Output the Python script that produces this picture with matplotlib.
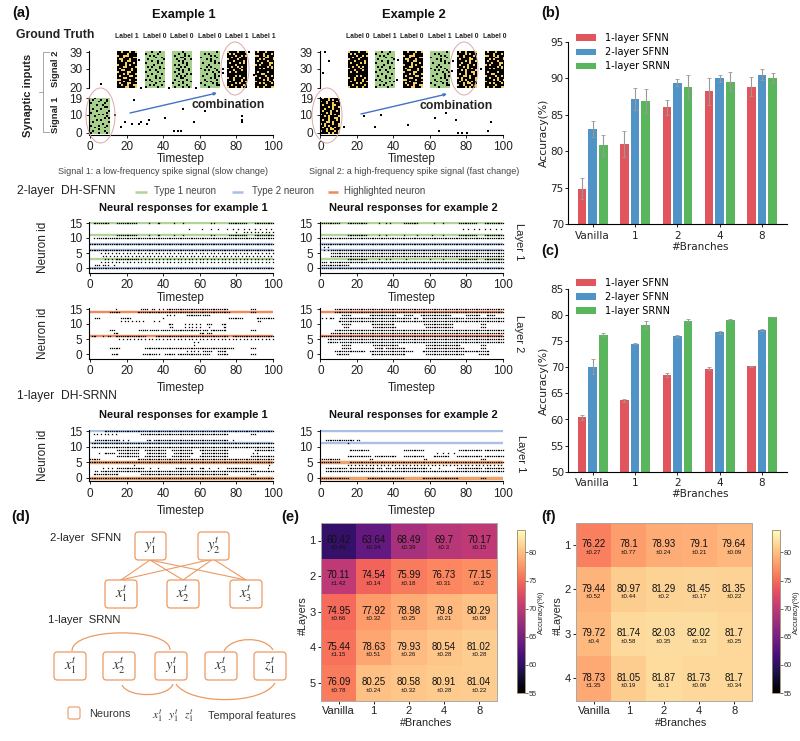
"""Spiking-network figure: input rasters, neural responses, accuracy bars and heatmaps."""
import numpy as np
import matplotlib
matplotlib.use("Agg")
import matplotlib.pyplot as plt
from matplotlib.colors import ListedColormap
from matplotlib.patches import Ellipse, FancyBboxPatch, PathPatch
from matplotlib.path import Path

plt.rcParams["font.family"] = ["Liberation Sans", "DejaVu Sans"]
plt.rcParams["mathtext.fontset"] = "stix"
W, H = 800, 741

BRANCHES = ["Vanilla", "1", "2", "4", "8"]
SERIES = ["1-layer SFNN", "2-layer SFNN", "1-layer SRNN"]
BAR_COLORS = ["#e0565c", "#4f93c7", "#5ab65c"]

B_MEAN_1 = [74.9, 81.0, 86.0, 88.2, 88.8]
B_ERR_1 = [1.4, 1.8, 1.0, 1.8, 1.3]
B_MEAN_2 = [83.0, 87.2, 89.4, 90.0, 90.5]
B_ERR_2 = [1.1, 1.5, 0.5, 0.5, 0.8]
B_MEAN_3 = [80.8, 86.9, 88.8, 89.5, 90.0]
B_ERR_3 = [1.4, 1.6, 1.7, 1.3, 0.7]

C_MEAN_1 = [60.42, 63.64, 68.49, 69.7, 70.17]
C_ERR_1 = [0.46, 0.34, 0.39, 0.3, 0.15]
C_MEAN_2 = [70.11, 74.54, 75.99, 76.73, 77.15]
C_ERR_2 = [1.42, 0.14, 0.18, 0.31, 0.2]
C_MEAN_3 = [76.22, 78.1, 78.93, 79.1, 79.64]
C_ERR_3 = [0.27, 0.77, 0.24, 0.21, 0.09]

E_MEAN = [[60.42, 63.64, 68.49, 69.7, 70.17],
          [70.11, 74.54, 75.99, 76.73, 77.15],
          [74.95, 77.92, 78.98, 79.8, 80.29],
          [75.44, 78.63, 79.93, 80.54, 81.02],
          [76.09, 80.25, 80.58, 80.91, 81.04]]
E_STD = [["0.46", "0.34", "0.39", "0.3", "0.15"],
         ["1.42", "0.14", "0.18", "0.31", "0.2"],
         ["0.66", "0.32", "0.25", "0.21", "0.08"],
         ["1.15", "0.51", "0.26", "0.28", "0.28"],
         ["0.78", "0.24", "0.32", "0.28", "0.22"]]
F_MEAN = [[76.22, 78.1, 78.93, 79.1, 79.64],
          [79.44, 80.97, 81.29, 81.45, 81.35],
          [79.72, 81.74, 82.03, 82.02, 81.7],
          [78.73, 81.05, 81.87, 81.73, 81.7]]
F_STD = [["0.27", "0.77", "0.24", "0.21", "0.09"],
         ["0.52", "0.44", "0.2", "0.17", "0.22"],
         ["0.4", "0.58", "0.35", "0.33", "0.25"],
         ["1.35", "0.19", "0.1", "0.06", "0.34"]]

# input spikes outside the coloured patches, (timestep, id)
EX1_SPIKES_LOW = [(13.5, 10), (17, 3), (19, 6), (23, 5), (27, 5), (28, 6), (31, 5), (32, 7), (41, 8),
                  (46, 1), (48, 1), (50, 1), (51, 13), (57, 6), (63, 12), (83, 9), (83, 7), (83, 6), (24, 18)]
EX1_SPIKES_HIGH = [(5.8, 22), (28, 20), (43, 20), (58, 20), (27, 35), (72.7, 30), (72.7, 28), (86.8, 39),
                   (89.5, 27)]
EX2_SPIKES_LOW = [(12.8, 3), (24, 9), (33, 10), (30, 3), (48, 4), (62.7, 8), (68.6, 11), (74.4, 7), (64.7, 1),
                  (75.5, 0), (77.3, 0), (80.4, 0), (91.8, 1), (93.6, 6)]
EX2_SPIKES_HIGH = [(2.7, 39), (4.8, 34), (1.5, 28), (42.6, 35), (41.7, 24), (72.8, 34), (71.8, 29), (88, 30)]

PATCH_STARTS = [15, 30, 45, 60, 75, 90]
EX1_LABELS = [1, 0, 0, 0, 1, 1]
EX2_LABELS = [0, 1, 0, 1, 0, 0]

# ten-step stimulus patches, # is a spike, top row is the highest id
YELLOW_A = ["##.###.##.", "#####.####", ".##...####", "###.####..", "#..###.###", "##.##..###", "####.###.#",
            ".###.#.###", "###..####.", "#.#####.##", "##..###.##", ".####..###", "###.#.###.", "#.####..##",
            "###..####.", "..####.###", "###.#####.", "#.###..###", "##.##.##..", "####..###."]
YELLOW_B = ["#.###.####", "####.###.#", "..##.#.###", "#####..##.", "##.#.####.", "#.####.###", "###.###..#",
            ".#.####.##", "######.#.#", "##.#.###.#", "##########", "#.####.###", "###..#####", ".####.##.#",
            "##.###.###", "####.#.##.", ".######.##", "##.#.###.#", "#####.####", "#.##.###.."]
YELLOW_C = [".####.###.", "#.#.######", "####.##.#.", "##.###.###", ".####.####", "###.####.#", "#.####.#.#",
            "####.#####", "##.##.#.##", ".#####.###", "###.###.##", "#.##.#####", "##########", "####.#.###",
            ".##.####.#", "###.###.##", "#.#####.#.", "####.#.###", "##.#####.#", ".###.##.##"]
YELLOW_D = ["#.##.####.", "####.#.###", ".##.####.#", "###.##.###", "#.####..##", "####.#.##.", "##.###.###",
            "#.###.##.#", "###.#.####", ".####.#.##", "##.#.####.", "####.##..#", "#.##.###.#", "###..#.###",
            ".#.###.##.", "##.#.####.", "#.###.#.##", "###.#..###", ".##.###.#.", "####.#.##."]
GREEN_A = ["..#.......", ".#...#..#.", "....#...#.", "#......#..", "...#..#...", ".......##.", ".#...#....",
           "...#.....#", "#.......#.", "....#.#...", "..#.....#.", ".......#.#", "...#.#....", ".#.......#",
           "......#...", "#...#...#.", "..#....#..", "....#.....", ".#.....#..", "#...#...#."]
GREEN_B = ["...#...#..", "#.....#...", "..#.#.....", ".....#..#.", ".#.......#", "...#..#...", "#.....#.#.",
           "....#.....", ".#.#...#..", ".......#.#", "..#..#....", "#.....#...", "...#....#.", ".#...#....",
           ".....#.#..", "#.#.......", "...#...#.#", ".....#....", "..#.#...#.", "#.....#..."]
GREEN_C = [".....#....", "...#..#...", ".#....#.#.", "....##....", "..#...#..#", "...#.#....", ".....#.#..",
           ".#.#...#..", "....#.#...", "..##....#.", "...#.#..#.", ".#...#....", "...#...#.#", "..#.#.#...",
           "....##....", ".#.....#..", "...#.#...#", "#....#....", "...#...#..", ".#...#..#."]
GREEN_D = ["........#.", "..#.#.....", ".....#.#..", "#.......#.", "...#.#....", ".....#.#..", ".#.....#.#",
           "....#.....", "...#.#....", "#......#..", "..#.#...#.", "......#..#", "...#...#..", ".#.....#.#",
           ".....#.#..", "..#.....#.", "...#.#....", "#.....#.#.", "..#.....##", "....#....."]
EX1_PATCHES_HIGH = [YELLOW_A, GREEN_B, GREEN_C, GREEN_D, YELLOW_C, YELLOW_B]
EX2_PATCHES_HIGH = [YELLOW_C, GREEN_B, YELLOW_A, GREEN_D, YELLOW_D, YELLOW_B]
EX1_PATCH_LOW = GREEN_A
EX2_PATCH_LOW = YELLOW_D

# responses as spike trains per neuron id: (first, last[, every]) timestep
SFNN_L1_EX1 = {15: [(2, 10), (15, 25), (32, 32), (37, 38), (46, 46), (51, 51), (66, 66), (68, 68), (76, 85), (90, 100)],
               13: [(54, 54), (61, 61), (66, 66), (70, 70), (75, 100, 3)],
               12: [(80, 80), (84, 100, 2)],
               11: [(15, 25), (32, 32), (37, 38), (46, 46), (51, 51), (66, 66), (68, 68), (76, 85), (90, 100)],
               10: [(2, 2), (4, 100)], 8: [(0, 100)], 6: [(0, 100)], 5: [(6, 100, 2)], 4: [(7, 100, 2)],
               3: [(8, 14, 2), (15, 25), (26, 100, 2)], 2: [(6, 100, 2)],
               1: [(3, 5), (7, 8), (10, 10), (13, 13)], 0: [(0, 100)]}
SFNN_L1_EX2 = {15: [(0, 10), (15, 25), (32, 32), (36, 36), (38, 38), (46, 53), (62, 62), (67, 67), (76, 85), (90, 100)],
               13: [(78, 100, 3)],
               11: [(15, 25), (32, 32), (36, 36), (46, 46), (53, 53), (61, 61), (67, 67), (76, 85), (90, 100)],
               10: [(1, 100)], 8: [(0, 100)], 7: [(2, 4, 2)], 6: [(2, 4, 2), (6, 100)], 5: [(6, 100)], 4: [(6, 100)],
               3: [(15, 25), (32, 32), (36, 36), (38, 38), (47, 47), (60, 60), (67, 67), (76, 85), (90, 100)],
               2: [(1, 3), (5, 100)], 1: [(1, 15)], 0: [(1, 100)]}
SFNN_L2_EX1 = {15: [(14, 14), (28, 31), (34, 35), (38, 38), (40, 40), (42, 75), (88, 90)],
               14: [(11, 16), (26, 76), (88, 90)],
               13: [(42, 46, 2), (53, 60), (62, 65)],
               12: [(3, 5), (17, 22), (40, 40), (76, 83), (91, 100)],
               11: [(17, 30, 2), (35, 35), (38, 38), (92, 93)],
               10: [(43, 45), (52, 60, 2), (64, 66), (72, 74)],
               9: [(44, 45), (52, 60, 2), (65, 65), (73, 74)],
               8: [(11, 13), (27, 31), (33, 37), (39, 43), (45, 60), (62, 64), (66, 74), (88, 90)],
               7: [(13, 15), (60, 62), (64, 66)],
               6: [(1, 3), (7, 7), (10, 11), (14, 30), (36, 75), (78, 100)],
               5: [(16, 100, 2)], 4: [(57, 57), (59, 59)], 3: [(57, 57)],
               2: [(11, 16), (30, 78), (88, 90)],
               1: [(53, 60, 2), (62, 66), (70, 74)],
               0: [(12, 15), (29, 33), (34, 36), (38, 38), (41, 46), (48, 60), (62, 65), (70, 75), (88, 90)]}
SFNN_L2_EX2 = {15: [(8, 100)], 14: [(8, 100)],
               13: [(12, 16), (27, 41), (46, 50), (55, 71), (80, 87), (91, 95)],
               12: [(1, 5, 2), (6, 7), (11, 49), (51, 53), (56, 78), (80, 100)],
               11: [(10, 100)],
               10: [(12, 16), (28, 40), (57, 72), (88, 90)],
               9: [(13, 15), (29, 41), (58, 72), (88, 90)],
               8: [(8, 100)], 7: [(6, 100)], 6: [(0, 100)], 5: [(4, 100)],
               4: [(4, 9), (11, 100)],
               3: [(12, 16), (29, 42), (58, 76), (88, 90)],
               2: [(12, 16), (30, 34), (36, 46), (58, 78), (88, 90)],
               1: [(8, 24), (27, 50), (56, 92)],
               0: [(9, 15), (28, 46), (58, 78), (87, 92)]}
SRNN_EX1 = {15: [(8, 100)],
            14: [(2, 15, 2), (28, 75), (88, 90)],
            12: [(3, 15), (16, 16), (18, 18), (21, 21), (31, 33), (35, 75), (78, 78)],
            11: [(1, 100)], 10: [(1, 100)],
            9: [(15, 26), (30, 41), (45, 55), (60, 75), (90, 100)],
            8: [(5, 5), (8, 13), (16, 26), (31, 41), (46, 56), (61, 75), (89, 89), (91, 91)],
            7: [(15, 26), (30, 41), (45, 54), (60, 75), (88, 100)],
            6: [(0, 5), (26, 100)], 5: [(0, 100)], 4: [(24, 24), (98, 98)],
            3: [(7, 7), (10, 10), (12, 12), (15, 29), (33, 33), (37, 37), (47, 52), (55, 56), (60, 62), (65, 65), (70, 70), (75, 88), (97, 97)],
            2: [(3, 4), (6, 100)], 1: [(2, 15), (28, 75), (88, 90)], 0: [(0, 100)]}
SRNN_EX2 = {12: [(3, 18), (20, 20), (21, 21)], 11: [(15, 15)],
            9: [(16, 26), (46, 56), (76, 88), (90, 100)],
            8: [(64, 64), (67, 67), (70, 70), (73, 73)],
            7: [(15, 27), (30, 41), (46, 56), (62, 70), (75, 88), (90, 100)],
            6: [(0, 10), (27, 28), (57, 58), (88, 90)],
            5: [(0, 10), (16, 100)], 4: [(15, 100, 2)],
            3: [(3, 14), (16, 29), (31, 33), (36, 38), (41, 45), (46, 58), (60, 60), (65, 65), (75, 88), (90, 100)],
            2: [(3, 5), (6, 100)], 0: [(0, 15), (26, 45), (56, 75), (88, 90)]}

GREEN = "#b0d49a"
BLUE = "#a9bfe6"
ORANGE = "#f08a5d"
SRNN_ORANGE = "#eea36c"
BAND_L1 = {15: GREEN, 11: GREEN, 3: GREEN, 8: BLUE, 6: BLUE, 0: BLUE}
BAND_L2 = {14: ORANGE, 6: ORANGE}
BAND_SRNN = {15: BLUE, 11: BLUE, 5: SRNN_ORANGE, 0: SRNN_ORANGE}


def axes_px(fig, left, top, right, bottom):
    return fig.add_axes([left / W, 1 - bottom / H, (right - left) / W, (bottom - top) / H])


def bitmap(rows):
    return np.array([[c == "#" for c in row] for row in rows], dtype=float)


def train_xy(trains):
    xs, ys = [], []
    for nid, runs in trains.items():
        for run in runs:
            step = run[2] if len(run) > 2 else 1
            t = np.arange(run[0], run[1] + 1, step)
            xs.extend(t)
            ys.extend([nid] * len(t))
    return xs, ys


def style_axis(ax, size=8.5):
    ax.spines[["top", "right"]].set_visible(False)
    for s in ax.spines.values():
        s.set_linewidth(0.8)
    ax.tick_params(length=2.4, width=0.7, labelsize=size, pad=2.5, colors="#222222")


def raster(fig, left, right, y15, y0, ybot, trains, bands, xlabel_y, ylabel=False):
    ppu = (y0 - y15) / 15
    top = y15 - 1
    ax = axes_px(fig, left, top, right, ybot)
    ax.set_xlim(-0.5, 100)
    ax.set_ylim(-(ybot - y0) / ppu, 15 + 1 / ppu)
    for nid, color in bands.items():
        ax.plot([0, 100], [nid, nid], color=color, lw=2.5 if color == SRNN_ORANGE else 1.7,
                solid_capstyle="butt", zorder=1)
    xs, ys = train_xy(trains)
    dots = ax.scatter(xs, ys, s=0.85, c="black", marker="s", linewidths=0, zorder=2, clip_on=False)
    dots.set_snap(False)
    ax.set_xticks([0, 20, 40, 60, 80, 100])
    ax.set_yticks([0, 5, 10, 15])
    style_axis(ax)
    ax.set_xlabel("Timestep", fontsize=8.5, color="#222222")
    ax.xaxis.set_label_coords(0.5, xlabel_y)
    if ylabel:
        ax.set_ylabel("Neuron id", fontsize=8.5, color="#222222")
        ax.yaxis.set_label_coords(-0.22, 0.5)
    return ax


def input_panel(fig, ov, left, right, spikes_low, spikes_high, patch_low, patches_high, labels):
    low = axes_px(fig, left, 97.5, right, 134.5)
    high = axes_px(fig, left, 51, right, 88)
    cmaps = {"y": ListedColormap(["#f6cf5f", "black"]), "g": ListedColormap(["#a8d08d", "black"])}
    green_set = (GREEN_A, GREEN_B, GREEN_C, GREEN_D)
    low.imshow(bitmap(patch_low), cmap=cmaps["g" if patch_low in green_set else "y"], aspect="auto",
               extent=(0, 10.5, -0.5, 19.5), interpolation="nearest", vmin=0, vmax=1, zorder=1)
    for start, rows in zip(PATCH_STARTS, patches_high):
        high.imshow(bitmap(rows), cmap=cmaps["g" if rows in green_set else "y"], aspect="auto",
                    extent=(start, start + 10.5, 19.8, 39.6), interpolation="nearest", vmin=0, vmax=1, zorder=1)
    low.set_xlim(-0.5, 100)
    low.set_ylim(-1, 19.4)
    high.set_xlim(-0.5, 100)
    high.set_ylim(19.8, 39.6)
    low.scatter(*zip(*spikes_low), s=2, c="black", marker="s", linewidths=0, clip_on=False, zorder=2)
    high.scatter(*zip(*spikes_high), s=2, c="black", marker="s", linewidths=0, clip_on=False, zorder=2)
    low.set_xticks([0, 20, 40, 60, 80, 100])
    low.set_yticks([0, 10, 19])
    style_axis(low)
    style_axis(high)
    high.spines["bottom"].set_visible(False)
    high.set_xticks([])
    high.set_yticks([20, 30, 39])
    low.set_xlabel("Timestep", fontsize=8.5, color="#222222")
    low.xaxis.set_label_coords(0.5, -0.51)
    for start, lab in zip(PATCH_STARTS, labels):
        px = left + (start + 0.5 + 5.25) * (right - left) / 100.5
        ov.text(px, 36, f"Label {lab}", fontsize=4.9, fontweight="bold", ha="center", va="center", color="#222222")


def bar_panel(fig, top, bottom, ylim, ticks, means, errs, legend_y):
    ax = axes_px(fig, 568, top, 787, bottom)
    x = np.arange(len(BRANCHES))
    for i, (m, e, c, name) in enumerate(zip(means, errs, BAR_COLORS, SERIES)):
        ax.bar(x + (i - 1) * 0.25, m, 0.2, color=c, label=name, yerr=e,
               error_kw=dict(ecolor="#999999", elinewidth=0.8, capsize=1.3, capthick=0.6))
    ax.set_xlim(-0.584, 4.59)
    ax.set_ylim(*ylim)
    ax.set_yticks(ticks)
    ax.set_xticks(x, BRANCHES)
    ax.spines[["top", "right"]].set_visible(False)
    for s in ax.spines.values():
        s.set_linewidth(0.8)
    ax.tick_params(length=2.5, width=0.7, labelsize=7.5, pad=2, labelfontfamily="DejaVu Sans", colors="#222222")
    ax.tick_params(axis="y", pad=0.5)
    ax.set_ylabel("Accuracy(%)", fontsize=7.8, family="DejaVu Sans", color="#222222")
    ax.yaxis.set_label_coords(-0.085, 0.5)
    ax.set_xlabel("#Branches", fontsize=7.5, family="DejaVu Sans", color="#222222")
    ax.xaxis.set_label_coords(0.603, -0.095)
    ax.legend(loc="upper left", bbox_to_anchor=(0.015, legend_y), frameon=False, handlelength=2.05, handleheight=0.7,
              handletextpad=0.9, labelspacing=0.42, borderpad=0, prop=dict(family="DejaVu Sans", size=7))
    return ax


def heat_panel(fig, left, right, cleft, cright, means, stds, ylabels):
    ax = axes_px(fig, left, 522.7, right, 700.7)
    im = ax.imshow(means, cmap="magma", vmin=55, vmax=84, aspect="auto")
    for r, row in enumerate(means):
        for c, val in enumerate(row):
            ax.text(c, r - 0.02, f"{val:g}", ha="center", va="center", fontsize=7, color="#111111")
            ax.text(c, r + len(means) * 0.041, "±" + stds[r][c], ha="center", va="center", fontsize=4.4,
                    color="#111111")
    ax.set_xticks(range(len(BRANCHES)), BRANCHES)
    ax.set_yticks(range(len(means)), ylabels)
    ax.tick_params(length=2.5, width=0.7, labelsize=8, pad=1.5, colors="#222222")
    for s in ax.spines.values():
        s.set_color("#aaaaaa")
        s.set_linewidth(0.7)
    ax.set_xlabel("#Branches", fontsize=7.8, color="#222222")
    ax.xaxis.set_label_coords(0.6, -0.095)
    ax.set_ylabel("#Layers", fontsize=7.8, color="#222222")
    ax.yaxis.set_label_coords(-0.075, 0.48)
    cax = axes_px(fig, cleft, 530, cright, 693)
    cb = fig.colorbar(im, cax=cax, ticks=[55, 60, 65, 70, 75, 80])
    cb.ax.tick_params(length=1.8, width=0.5, labelsize=5.3, pad=1, colors="#333333")
    cb.outline.set_edgecolor("#998866")
    cb.outline.set_linewidth(0.6)
    return ax


def diagram(ov):
    edge = "#ec9a62"
    boxes = {"$y_1^t$": (135, 532, 31, 28), "$y_2^t$": (198, 532, 31, 28),
             "$x_1^t$": (105, 580, 32, 28), "$x_2^t$": (167, 580, 32, 28), "$x_3^t$": (230, 580, 32, 28)}
    low_boxes = {"$x_1^t$": (54, 652, 32, 28), "$x_2^t$": (103, 652, 32, 28), "$y_1^t$": (155, 652, 32, 28),
                 "$x_3^t$": (205, 652, 32, 28), "$z_1^t$": (254, 652, 32, 28)}
    for group in (boxes, low_boxes):
        for name, (x, y, w, h) in group.items():
            ov.add_patch(FancyBboxPatch((x + 3, y + 3), w - 6, h - 6, boxstyle="round,pad=3,rounding_size=3.5",
                                        fc="white", ec=edge, lw=0.9))
            ov.text(x + w / 2, y + h / 2, name, fontsize=10.5, ha="center", va="center", color="#333333")
    for top_x, top_y in ((150, 560), (213, 559)):
        for bot_x in (121, 183, 246):
            ov.plot([top_x, bot_x], [top_y, 580], color=edge, lw=0.8, zorder=0)
    arcs = [((72, 651), (72, 627), (170, 627), (170, 650)), ((224, 651), (232, 636), (265, 636), (273, 650)),
            ((122, 685), (128, 698), (168, 698), (173, 684)), ((176, 684), (190, 705), (262, 705), (275, 683))]
    for p0, p1, p2, p3 in arcs:
        ov.add_patch(PathPatch(Path([p0, p1, p2, p3], [Path.MOVETO, Path.CURVE4, Path.CURVE4, Path.CURVE4]),
                               fc="none", ec=edge, lw=0.9, zorder=0))
    ov.add_patch(FancyBboxPatch((70, 709), 8, 8, boxstyle="round,pad=2,rounding_size=2", fc="white", ec=edge, lw=0.8))
    txt(ov, 89, 714, "Neurons", 7.8, color="#333333")
    for x, name in ((157, "$x_1^t$"), (173, "$y_1^t$"), (189, "$z_1^t$")):
        ov.text(x, 716, name, fontsize=8.5, ha="center", va="center", color="#333333")
    txt(ov, 208, 716, "Temporal features", 7.8, color="#333333")
    txt(ov, 50, 538, "2-layer  SFNN", 8.1, color="#222222")
    txt(ov, 48, 620, "1-layer  SRNN", 8.1, color="#222222")


def txt(ov, x, y, s, size, weight="normal", ha="left", color="#111111", rotation=0):
    ov.text(x, y, s, fontsize=size, fontweight=weight, ha=ha, va="center", color=color, rotation=rotation)


def main():
    fig = plt.figure(figsize=(W / 100, H / 100), dpi=100, facecolor="white")
    ov = fig.add_axes([0, 0, 1, 1], zorder=10)
    ov.set_xlim(0, W)
    ov.set_ylim(H, 0)
    ov.axis("off")

    # (a) inputs
    input_panel(fig, ov, 89, 273, EX1_SPIKES_LOW, EX1_SPIKES_HIGH, EX1_PATCH_LOW, EX1_PATCHES_HIGH, EX1_LABELS)
    input_panel(fig, ov, 319.5, 503, EX2_SPIKES_LOW, EX2_SPIKES_HIGH, EX2_PATCH_LOW, EX2_PATCHES_HIGH, EX2_LABELS)
    for cx, cy, w, h in ((100.5, 115.5, 29, 55), (235, 68.5, 28, 53), (327, 115.5, 30, 55), (464, 68.5, 28, 53)):
        ov.add_patch(Ellipse((cx, cy), w, h, fc="none", ec="#dba9a9", lw=0.7))
    for start, end in (((130, 113), (217, 93)), ((361, 114), (447, 94))):
        ov.annotate("", xy=end, xytext=start,
                    arrowprops=dict(arrowstyle="-|>", color="#4472c4", lw=1.0, mutation_scale=4, shrinkA=0, shrinkB=0))
    txt(ov, 228, 105, "combination", 8.8, "bold", "center", "#222222")
    txt(ov, 456, 106, "combination", 8.8, "bold", "center", "#222222")
    txt(ov, 12, 13, "(a)", 10.5, "bold")
    txt(ov, 184, 15, "Example 1", 9.3, "bold", "center")
    txt(ov, 414, 15, "Example 2", 9.3, "bold", "center")
    txt(ov, 16, 35, "Ground Truth", 8.8, "bold", color="#222222")
    txt(ov, 28, 95, "Synaptic inputs", 8, "bold", "center", "#222222", 90)
    txt(ov, 56, 69, "Signal 2", 6.8, "bold", "center", "#222222", 90)
    txt(ov, 56, 115, "Signal 1", 6.8, "bold", "center", "#222222", 90)
    ov.plot([49, 43, 43, 49], [52, 52, 132, 132], color="#999999", lw=0.6)
    ov.plot([39, 43], [92, 92], color="#999999", lw=0.6)
    txt(ov, 163, 172, "Signal 1: a low-frequency spike signal (slow change)", 6.45, ha="center", color="#444444")
    txt(ov, 414, 172, "Signal 2: a high-frequency spike signal (fast change)", 6.45, ha="center", color="#444444")

    # (a) responses
    txt(ov, 17, 191, "2-layer  DH-SFNN", 8.7, color="#222222")
    for x0, x1, color in ((135, 147, GREEN), (232, 243, BLUE), (328, 338, ORANGE)):
        ov.plot([x0, x1], [192, 192], color=color, lw=1.8, solid_capstyle="butt")
    txt(ov, 154, 191, "Type 1 neuron", 7.0, color="#444444")
    txt(ov, 252, 191, "Type 2 neuron", 7.0, color="#444444")
    txt(ov, 344, 191, "Highlighted neuron", 7.0, color="#444444")
    txt(ov, 17, 396, "1-layer  DH-SRNN", 8.7, color="#222222")
    for y in (208, 414.5):
        txt(ov, 183, y, "Neural responses for example 1", 8, "bold", "center")
        txt(ov, 413, y, "Neural responses for example 2", 8, "bold", "center")
    raster(fig, 89, 273, 223, 268, 272.5, SFNN_L1_EX1, BAND_L1, -0.39, True)
    raster(fig, 319.5, 503, 223, 268, 272.5, SFNN_L1_EX2, BAND_L1, -0.39)
    raster(fig, 89, 273, 309, 354, 358.5, SFNN_L2_EX1, BAND_L2, -0.475, True)
    raster(fig, 319.5, 503, 309, 354, 358.5, SFNN_L2_EX2, BAND_L2, -0.475)
    raster(fig, 89, 273, 431, 477.6, 481, SRNN_EX1, BAND_SRNN, -0.48, True)
    raster(fig, 319.5, 503, 431, 477.6, 481, SRNN_EX2, BAND_SRNN, -0.48)
    txt(ov, 519, 242, "Layer 1", 8, ha="center", color="#222222", rotation=-90)
    txt(ov, 519, 334, "Layer 2", 8, ha="center", color="#222222", rotation=-90)
    txt(ov, 521, 454, "Layer 1", 8, ha="center", color="#222222", rotation=-90)

    # (b), (c)
    bar_panel(fig, 41.7, 224.3, (70, 95), [70, 75, 80, 85, 90, 95],
              [B_MEAN_1, B_MEAN_2, B_MEAN_3], [B_ERR_1, B_ERR_2, B_ERR_3], 1.073)
    bar_panel(fig, 289, 471.7, (50, 85), [50, 55, 60, 65, 70, 75, 80, 85],
              [C_MEAN_1, C_MEAN_2, C_MEAN_3], [C_ERR_1, C_ERR_2, C_ERR_3], 1.089)
    txt(ov, 541, 13, "(b)", 10.5, "bold")
    txt(ov, 541, 251, "(c)", 10.5, "bold")

    # (d), (e), (f)
    diagram(ov)
    txt(ov, 11, 517, "(d)", 10.5, "bold")
    txt(ov, 281, 517, "(e)", 10.5, "bold")
    txt(ov, 541, 517, "(f)", 10.5, "bold")
    heat_panel(fig, 321, 496.7, 516.7, 524.7, E_MEAN, E_STD, ["1", "2", "3", "4", "5"])
    heat_panel(fig, 576.3, 751.7, 771.7, 780, F_MEAN, F_STD, ["1", "2", "3", "4"])
    txt(ov, 541, 612, "Accuracy(%)", 5.5, ha="center", color="#222222", rotation=90)
    txt(ov, 796, 612, "Accuracy(%)", 5.5, ha="center", color="#222222", rotation=90)

    fig.savefig("out.png", dpi=100, facecolor="white")


if __name__ == "__main__":
    main()
